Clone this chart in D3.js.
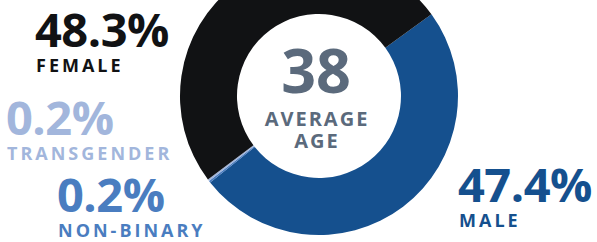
<!DOCTYPE html>
<html>
<head>
<meta charset="utf-8">
<script src="https://cdn.jsdelivr.net/npm/d3@7"></script>
<style>
  body { margin: 0; background: #fff; }
  text { font-family: "Open Sans", sans-serif; font-weight: 700; }
</style>
</head>
<body>
<svg id="chart" width="597" height="242"></svg>
<script>
// data
const categories = ["MALE", "NON-BINARY", "TRANSGENDER", "FEMALE"];
const values = [47.4, 0.2, 0.2, 48.3];
const valueLabels = ["47.4%", "0.2%", "0.2%", "48.3%"];
const averageAge = 38;
const centerLabel = ["AVERAGE", "AGE"];

const colors = ["#15508e", "#4a7dc0", "#a2b6dc", "#111214"];

// where each label block sits (left x, baseline of big number)
const labelPos = [
  { x: 458, y: 202 },
  { x: 57, y: 212 },
  { x: 6, y: 135 },
  { x: 35, y: 47 }
];

const svg = d3.select("#chart");
const cx = 319, cy = 96;
const outerR = 139, innerR = 82;

const start = 54 * Math.PI / 180;
const pie = d3.pie().sort(null).startAngle(start).endAngle(start + 2 * Math.PI);
const arc = d3.arc().innerRadius(innerR).outerRadius(outerR);

const g = svg.append("g").attr("transform", "translate(" + cx + "," + cy + ")");

g.selectAll("path")
  .data(pie(values))
  .enter()
  .append("path")
  .attr("d", arc)
  .attr("fill", (d, i) => colors[i]);

// center text
g.append("text")
  .attr("x", -3).attr("y", -3)
  .attr("text-anchor", "middle")
  .attr("font-size", 61)
  .attr("fill", "#5b6a7c")
  .text(averageAge);

g.selectAll(".center-label")
  .data(centerLabel)
  .enter()
  .append("text")
  .attr("class", "center-label")
  .attr("x", -2)
  .attr("y", (d, i) => 30 + i * 22)
  .attr("text-anchor", "middle")
  .attr("font-size", 20)
  .attr("letter-spacing", 2)
  .attr("fill", "#5b6a7c")
  .text(d => d);

// side labels
const lab = svg.selectAll(".lab")
  .data(categories)
  .enter()
  .append("g")
  .attr("class", "lab")
  .attr("transform", (d, i) => "translate(" + labelPos[i].x + "," + labelPos[i].y + ")");

lab.append("text")
  .attr("font-size", 47)
  .attr("letter-spacing", -0.5)
  .attr("fill", (d, i) => colors[i])
  .text((d, i) => valueLabels[i]);

lab.append("text")
  .attr("x", 1)
  .attr("y", 25)
  .attr("font-size", 18)
  .attr("letter-spacing", 3)
  .attr("fill", (d, i) => colors[i])
  .text(d => d);
</script>
</body>
</html>
